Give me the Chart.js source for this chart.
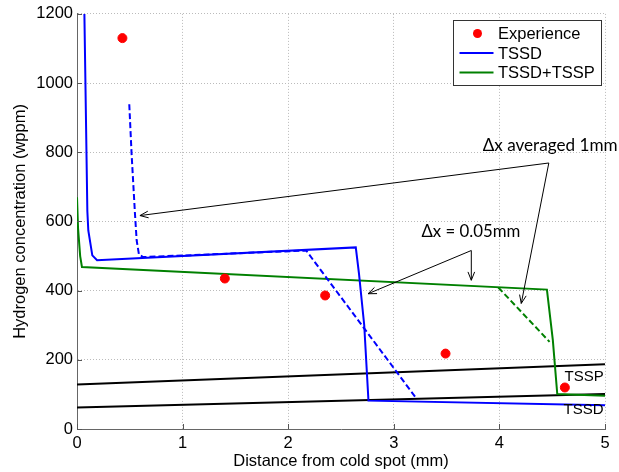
<!DOCTYPE html>
<html><head><meta charset="utf-8">
<script src="https://cdn.jsdelivr.net/npm/chart.js@4/dist/chart.umd.min.js"></script>
<style>html,body{margin:0;padding:0;background:#fff}</style>
</head><body>
<canvas id="c" width="619" height="472" style="width:619px;height:472px;display:block"></canvas>
<script>
// ---------- data ----------
const xTicks = [0, 1, 2, 3, 4, 5];
const yTicks = [0, 200, 400, 600, 800, 1000, 1200];

const expX = [0.43, 1.40, 2.35, 3.49, 4.62];
const expY = [1130, 435, 386, 218, 120];

const tssdX = [0.07, 0.098, 0.107, 0.145, 0.19, 2.64, 2.67, 2.72, 2.76, 5.0];
const tssdY = [1200, 630, 574, 502, 488, 525, 450, 300, 82, 69];

const tssdAvgX = [0.495, 0.517, 0.549, 0.565, 0.587, 0.627, 2.17, 3.21];
const tssdAvgY = [939, 795, 622, 545, 504, 497, 516, 90];

const tsspX = [0.0, 0.01, 0.03, 0.047, 4.45, 4.506, 4.548, 5.0];
const tsspY = [670, 580, 500, 468, 403, 257, 101, 96];

const tsspAvgX = [3.99, 4.475];
const tsspAvgY = [409, 252];

const solTSSPX = [0, 5];
const solTSSPY = [129, 187];
const solTSSDX = [0, 5];
const solTSSDY = [62, 101];

// annotations (data coordinates)
const noteText = ['\u0394x averaged 1mm', '\u0394x = 0.05mm'];
const noteX = [4.48, 3.73];
const noteY = [819, 572];
const apexX = [4.468, 3.734];
const apexY = [769, 516];
const arrowFrom = [0, 0, 1, 1];
const arrowToX = [0.596, 4.207, 2.756, 3.734];
const arrowToY = [617, 363, 391, 430];
const curveLabel = ['TSSP', 'TSSD'];
const curveLabelX = [4.617, 4.607];
const curveLabelY = [151, 55];

// ---------- styles ----------
const F = "'Liberation Sans', Arial, sans-serif";
const noteFont = ["Lato", "Lato"];
const noteWidth = [135, 99];
const pts = (xs, ys) => xs.map((x, i) => ({x, y: ys[i]}));

const lineDs = (label, xs, ys, color, dash, inLegend) => ({
  label, data: pts(xs, ys), showLine: true, borderColor: color, backgroundColor: color,
  borderWidth: 2, borderDash: dash || [], pointRadius: 0, pointHoverRadius: 0,
  tension: 0, inLegend: !!inLegend
});

const datasets = [
  {label: 'Experience', data: pts(expX, expY), showLine: false, pointRadius: 4.5,
   pointBackgroundColor: '#ff0000', pointBorderColor: '#ff0000', borderColor: '#ff0000',
   backgroundColor: '#ff0000', inLegend: true, isPoint: true},
  lineDs('TSSD', tssdX, tssdY, '#0000ff', null, true),
  lineDs('TSSD avg', tssdAvgX, tssdAvgY, '#0000ff', [6, 3]),
  lineDs('TSSD+TSSP', tsspX, tsspY, '#008000', null, true),
  lineDs('TSSD+TSSP avg', tsspAvgX, tsspAvgY, '#008000', [6, 3]),
  lineDs('TSSP sol', solTSSPX, solTSSPY, '#000000'),
  lineDs('TSSD sol', solTSSDX, solTSSDY, '#000000'),
];

function arrow(ctx, x1, y1, x2, y2) {
  ctx.beginPath(); ctx.moveTo(x1, y1); ctx.lineTo(x2, y2); ctx.stroke();
  const a = Math.atan2(y2 - y1, x2 - x1), L = 9, h = 0.38;
  ctx.beginPath();
  ctx.moveTo(x2 - L * Math.cos(a - h), y2 - L * Math.sin(a - h));
  ctx.lineTo(x2, y2);
  ctx.lineTo(x2 - L * Math.cos(a + h), y2 - L * Math.sin(a + h));
  ctx.stroke();
}

const extras = {
  id: 'extras',
  afterDatasetsDraw(chart) {
    const {ctx, chartArea: ca, scales: {x, y}} = chart;
    ctx.save();
    // inward tick marks
    ctx.strokeStyle = '#555'; ctx.lineWidth = 1;
    xTicks.forEach(v => { const px = Math.round(x.getPixelForValue(v)) + 0.5;
      ctx.beginPath(); ctx.moveTo(px, ca.bottom); ctx.lineTo(px, ca.bottom - 5); ctx.stroke(); });
    yTicks.forEach(v => { const py = Math.round(y.getPixelForValue(v)) + 0.5;
      ctx.beginPath(); ctx.moveTo(ca.left, py); ctx.lineTo(ca.left + 5, py); ctx.stroke(); });
    // arrows
    ctx.strokeStyle = '#000'; ctx.lineWidth = 1;
    arrowFrom.forEach((k, i) => arrow(ctx, x.getPixelForValue(apexX[k]), y.getPixelForValue(apexY[k]),
      x.getPixelForValue(arrowToX[i]), y.getPixelForValue(arrowToY[i])));
    // note texts
    ctx.fillStyle = '#000'; ctx.textAlign = 'center'; ctx.textBaseline = 'middle';
    noteText.forEach((t, i) => {
      ctx.font = '100px ' + noteFont[i];
      const s = 100 * noteWidth[i] / ctx.measureText(t).width;
      ctx.font = s.toFixed(2) + 'px ' + noteFont[i];
      ctx.fillText(t, x.getPixelForValue(noteX[i]), y.getPixelForValue(noteY[i]));
    });
    // curve labels
    ctx.textAlign = 'left'; ctx.font = '15px ' + F;
    curveLabel.forEach((t, i) => ctx.fillText(t, x.getPixelForValue(curveLabelX[i]), y.getPixelForValue(curveLabelY[i])));
    // legend
    const items = chart.data.datasets.filter(d => d.inLegend);
    const bw = 148, bh = 65, bx = Math.round(ca.right - 4 - bw) + 0.5, by = Math.round(ca.top + 6) + 0.5;
    ctx.fillStyle = '#fff'; ctx.fillRect(bx, by, bw, bh);
    ctx.strokeStyle = '#333'; ctx.lineWidth = 1; ctx.strokeRect(bx, by, bw, bh);
    ctx.font = '16.5px ' + F; ctx.textBaseline = 'middle'; ctx.textAlign = 'left';
    items.forEach((d, i) => {
      const cy = by + 13 + i * 19.5;
      if (d.isPoint) {
        ctx.fillStyle = d.pointBackgroundColor; ctx.beginPath();
        ctx.arc(bx + 24, cy, 4.5, 0, Math.PI * 2); ctx.fill();
      } else {
        ctx.strokeStyle = d.borderColor; ctx.lineWidth = 2; ctx.beginPath();
        ctx.moveTo(bx + 6, cy); ctx.lineTo(bx + 40, cy); ctx.stroke();
      }
      ctx.fillStyle = '#000'; ctx.fillText(d.label, bx + 44.5, cy + 1);
    });
    ctx.restore();
  }
};

new Chart(document.getElementById('c'), {
  type: 'scatter',
  data: {datasets},
  plugins: [extras],
  options: {
    responsive: false, animation: false, devicePixelRatio: 1,
    layout: {padding: {top: 13, right: 14, left: 0, bottom: 0}},
    plugins: {legend: {display: false}, tooltip: {enabled: false}},
    scales: {
      x: {
        type: 'linear', min: 0, max: 5,
        afterBuildTicks: a => { a.ticks = xTicks.map(v => ({value: v})); },
        afterFit: s => { s.height = 43; },
        ticks: {font: {size: 16.5, family: F}, color: '#000', padding: 5, maxRotation: 0,
                callback: v => String(v)},
        grid: {color: '#bbbbbb', lineWidth: 1, drawTicks: false},
        border: {display: true, color: '#666', width: 1, dash: [1, 2]},
        title: {display: true, text: 'Distance from cold spot (mm)', color: '#000',
                font: {size: 16.5, family: F}, padding: {top: 0, bottom: 1}}
      },
      y: {
        type: 'linear', min: 0, max: 1200,
        afterBuildTicks: a => { a.ticks = yTicks.map(v => ({value: v})); },
        afterFit: s => { s.width = 77; },
        ticks: {font: {size: 16.5, family: F}, color: '#000', padding: 4,
                callback: v => String(v)},
        grid: {color: '#bbbbbb', lineWidth: 1, drawTicks: false},
        border: {display: true, color: '#666', width: 1, dash: [1, 2]},
        title: {display: true, text: 'Hydrogen concentration (wppm)', color: '#000',
                font: {size: 16.5, family: F}, padding: {top: 11, bottom: 0}}
      }
    }
  }
});
</script>
</body></html>
